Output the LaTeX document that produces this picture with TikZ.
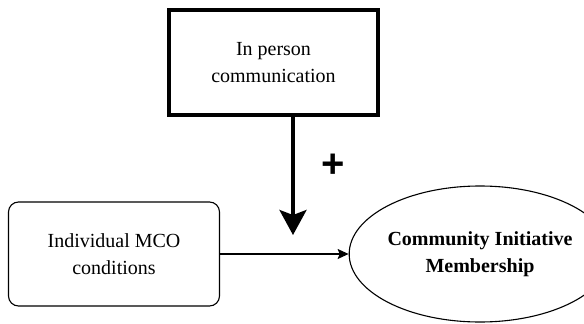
\documentclass[tikz,border=0pt]{standalone}
\usepackage{fontspec}
\setmainfont{Liberation Serif}
\newfontfamily\plusfont{Liberation Sans}
\usetikzlibrary{shapes.geometric,arrows.meta}

\begin{document}
\begin{tikzpicture}[x=1pt,y=-1pt,font=\fontsize{20}{27}\selectfont]
\useasboundingbox (0,0) rectangle (584,324);
\tikzset{box/.style={draw,align=center,inner sep=0pt}}
\node[box,line width=3.5pt,minimum width=209,minimum height=105] (comm) at (273.5,62.5) {In person\\communication};
\node[box,line width=1.1pt,rounded corners=10pt,minimum width=211,minimum height=104] (mco) at (114,254) {Individual MCO\\conditions};
\node[box,ellipse,line width=1.1pt,minimum width=205,minimum height=136,font=\fontsize{20}{27}\selectfont\bfseries] (member) at (480,254) {Community Initiative\\Membership};
\coordinate (tip) at (293,235);
\draw[line width=3.5pt,-{Stealth[length=25pt,width=27pt,inset=5pt]}] (comm.south -| tip) -- (tip);
\draw[line width=1.1pt,-{Stealth[length=11pt,width=10pt,inset=2pt]}] (mco.east) -- (member.west);
\node[inner sep=0pt] (plus) at (333.5,166) {\plusfont\bfseries\fontsize{40}{40}\selectfont +};
\end{tikzpicture}
\end{document}
